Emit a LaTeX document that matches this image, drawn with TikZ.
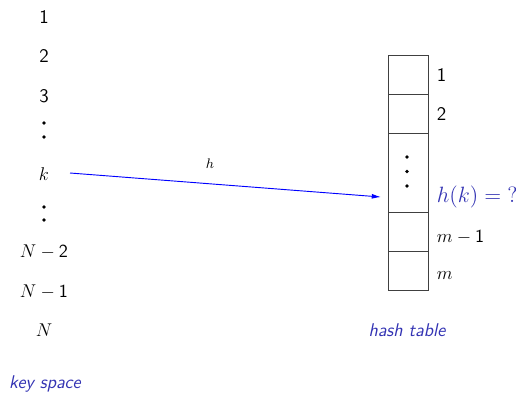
\documentclass[tikz,border=0pt]{standalone}
\usepackage{amsmath}
\usepackage{tikz}
\usetikzlibrary{positioning,arrows.meta}
\definecolor{kBlue}{RGB}{51,51,179}

\begin{document}
\begin{tikzpicture}[x=0.65pt,y=-0.65pt,font=\sffamily\fontsize{12.5}{15}\selectfont,
   key/.style={inner sep=1pt},
   cell/.style={rectangle,draw=black!75,line width=0.6pt,minimum width=26pt,inner sep=0pt},
   slot/.style={anchor=west,inner sep=1pt},
   title/.style={font=\sffamily\itshape\fontsize{12}{14}\selectfont,text=kBlue},
   dot/.style={circle,fill=black,inner sep=0pt,minimum size=2.4pt},
   hmap/.style={blue,line width=0.6pt,-{Latex[length=6pt,width=3.2pt]}}]
\useasboundingbox (0,0) rectangle (516,399);
%% ---- key space ----
\node[key] (k1) at (44,17) {1};
\node[key] (k2) at (44,56) {2};
\node[key] (k3) at (44,96) {3};
\node[dot] (d1) at (44,123) {};
\node[dot] (d2) at (44,137) {};
\node[key] (kk) at (44,174) {$k$};
\node[dot] (d3) at (44,207) {};
\node[dot] (d4) at (44,220) {};
\node[key] (kN2) at (44,252) {$N-\mathsf{2}$};
\node[key] (kN1) at (44,292) {$N-\mathsf{1}$};
\node[key] (kN) at (44,330) {$N$};
\node[title] (ks) at (45,384) {key space};
%% ---- hash table ----
\node[cell,minimum height=25.35pt] (c1) at (408,74.5) {};
\node[cell,minimum height=25.35pt] (c2) at (408,113.5) {};
\node[cell,minimum height=51.35pt] (c3) at (408,172.5) {};
\node[cell,minimum height=25.35pt] (c4) at (408,231.5) {};
\node[cell,minimum height=25.35pt] (c5) at (408,270.5) {};
\node[dot] (e1) at (407,157) {};
\node[dot] (e2) at (407,171.5) {};
\node[dot] (e3) at (407,186) {};
\node[slot] (s1) at (435,75) {1};
\node[slot] (s2) at (435,114) {2};
\node[slot,text=kBlue,font=\fontsize{14}{16}\selectfont] (sh) at (435,197) {$h(k)=\mathord{?}$};
\node[slot] (s4) at (435,237) {$m-\mathsf{1}$};
\node[slot] (s5) at (435,276) {$m$};
\node[title] (ht) at (407,330) {hash table};
%% ---- the map ----
\coordinate (kst) at (70,173);
\coordinate (hit) at (381,197);
\draw[hmap] (kst) -- (hit);
\node[font=\fontsize{9}{11}\selectfont] (hl) at (210,164) {$h$};
\end{tikzpicture}
\end{document}
